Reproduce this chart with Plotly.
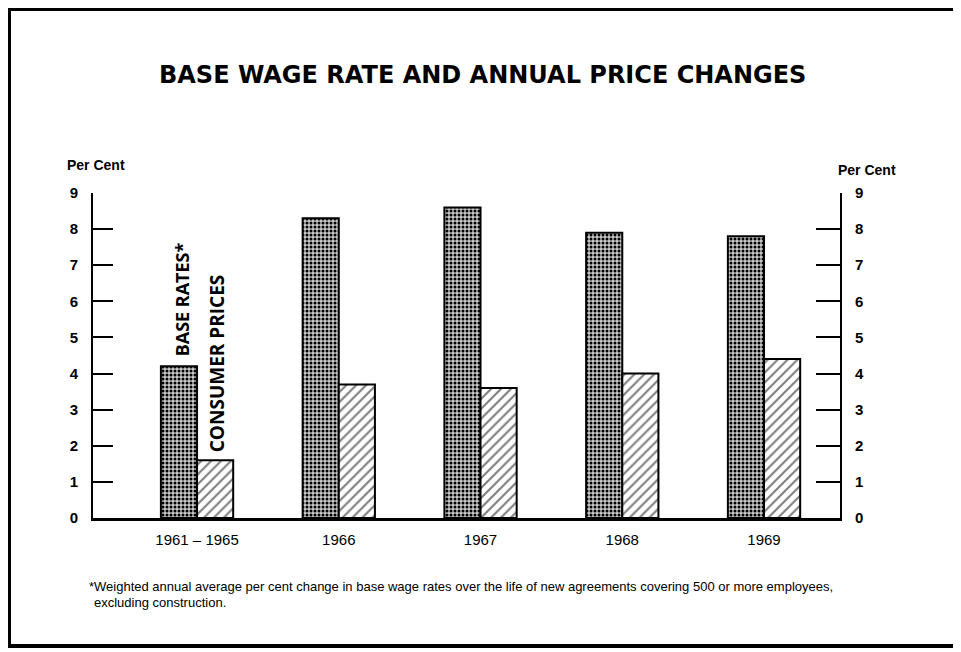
import plotly.graph_objects as go

categories = ["1961 – 1965", "1966", "1967", "1968", "1969"]
base_rates = [4.2, 8.3, 8.6, 7.9, 7.8]
consumer_prices = [1.6, 3.7, 3.6, 4.0, 4.4]
y_ticks = [0, 1, 2, 3, 4, 5, 6, 7, 8, 9]

title_text = "BASE WAGE RATE AND ANNUAL PRICE CHANGES"
footnote_1 = "*Weighted annual average per cent change in base wage rates over the life of new agreements covering 500 or more employees,"
footnote_2 = "excluding construction."

# the page body has an 8px margin; lay out in reference pixel coords minus that
OFF = 8
W, H = 961 - OFF, 652 - OFF
L = 93 - OFF
T = 193 - OFF
R = W - (840 - OFF)
B = H - (518 - OFF)
pw, ph = W - L - R, H - T - B


def px(x):
    return (x - OFF - L) / pw


def py(y):
    return (H - B - (y - OFF)) / ph


fig = go.Figure()
fig.add_trace(go.Bar(
    x=categories, y=base_rates, name="BASE RATES*",
    marker=dict(color="#a0a0a0", line=dict(color="black", width=2),
                pattern=dict(shape=".", fgcolor="black", bgcolor="#c8c8c8",
                             size=4, solidity=0.45, fillmode="replace")),
))
fig.add_trace(go.Bar(
    x=categories, y=consumer_prices, name="CONSUMER PRICES",
    marker=dict(color="white", line=dict(color="black", width=2),
                pattern=dict(shape="/", fgcolor="black", bgcolor="white",
                             size=7, solidity=0.3, fillmode="overlay")),
))
# invisible trace to activate right axis
fig.add_trace(go.Scatter(x=categories, y=base_rates, yaxis="y2",
                         mode="markers", marker=dict(opacity=0),
                         showlegend=False, hoverinfo="skip"))

tick_font = dict(family="Liberation Sans, Arial, sans-serif", size=15, color="black", weight="bold")

fig.update_layout(
    width=W, height=H,
    margin=dict(l=L, r=R, t=T, b=B, pad=0),
    paper_bgcolor="white", plot_bgcolor="white",
    showlegend=False,
    barmode="group", bargap=0.49, bargroupgap=0,
    xaxis=dict(
        type="category", range=[-0.734, 4.536],
        showline=True, linecolor="black", linewidth=3,
        showgrid=False, zeroline=False, ticks="",
        tickfont=dict(family="Liberation Sans, Arial, sans-serif", size=15, color="black"),
        ticklabelstandoff=6,
    ),
    yaxis=dict(
        range=[0, 9], tickvals=y_ticks, ticktext=[str(v) for v in y_ticks],
        showline=True, linecolor="black", linewidth=2,
        ticks="inside", ticklen=20, tickwidth=2, tickcolor="black",
        showgrid=False, zeroline=False, tickfont=tick_font,
        ticklabelstandoff=10,
    ),
    yaxis2=dict(
        range=[0, 9], tickvals=y_ticks, ticktext=[str(v) for v in y_ticks],
        overlaying="y", side="right",
        showline=True, linecolor="black", linewidth=2,
        ticks="inside", ticklen=24, tickwidth=2, tickcolor="black",
        showgrid=False, zeroline=False, tickfont=tick_font,
        ticklabelstandoff=10,
    ),
)

ann_font = dict(family="Liberation Sans, Arial, sans-serif", color="black", weight="bold")
annotations = [
    dict(text=title_text, x=px(482), y=py(75), xref="paper", yref="paper",
         showarrow=False, xanchor="center", yanchor="middle",
         font=dict(ann_font, size=24, family="DejaVu Sans, Open Sans, sans-serif")),
    dict(text="Per Cent", x=px(96), y=py(165), xref="paper", yref="paper",
         showarrow=False, xanchor="center", yanchor="middle", font=dict(ann_font, size=14)),
    dict(text="Per Cent", x=px(867), y=py(170), xref="paper", yref="paper",
         showarrow=False, xanchor="center", yanchor="middle", font=dict(ann_font, size=14)),
    dict(text="BASE RATES*", x=0, y=base_rates[0], xref="x", yref="y",
         xshift=-15, yshift=8, textangle=-90, showarrow=False,
         xanchor="center", yanchor="bottom",
         font=dict(ann_font, size=18, family="Open Sans, Liberation Sans, sans-serif")),
    dict(text="CONSUMER PRICES", x=0, y=consumer_prices[0], xref="x", yref="y",
         xshift=20, yshift=6, textangle=-90, showarrow=False,
         xanchor="center", yanchor="bottom",
         font=dict(ann_font, size=19, family="Open Sans, Liberation Sans, sans-serif")),
    dict(text=footnote_1, x=px(87), y=py(586), xref="paper", yref="paper",
         showarrow=False, xanchor="left", yanchor="middle",
         font=dict(family="Liberation Sans, Arial, sans-serif", size=13, color="black")),
    dict(text=footnote_2, x=px(92), y=py(602), xref="paper", yref="paper",
         showarrow=False, xanchor="left", yanchor="middle",
         font=dict(family="Liberation Sans, Arial, sans-serif", size=13, color="black")),
]
fig.update_layout(annotations=annotations)

fig.add_shape(type="rect", xref="paper", yref="paper",
              x0=px(9), x1=px(956), y0=py(646), y1=py(9),
              line=dict(color="black", width=4), fillcolor="rgba(0,0,0,0)", layer="above")

fig.write_html("out.html")
